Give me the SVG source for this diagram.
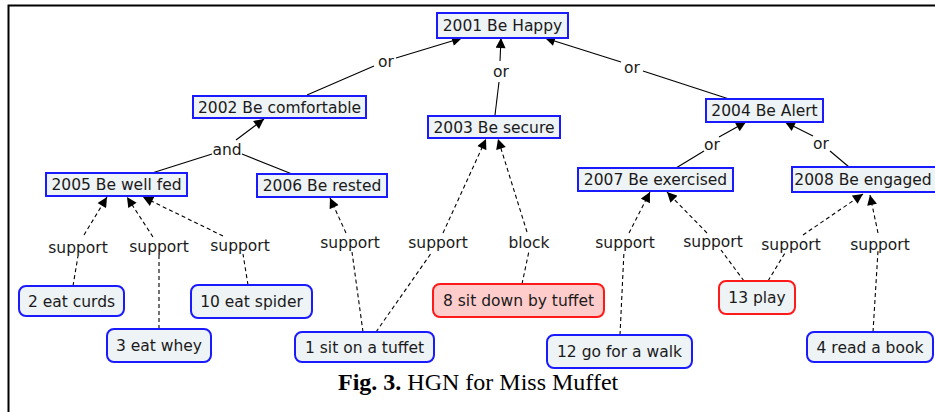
<svg xmlns="http://www.w3.org/2000/svg" width="935" height="412" viewBox="0 0 935 412">
<defs>
<marker id="ah" viewBox="0 0 10 10" refX="10" refY="5" markerWidth="11" markerHeight="10" markerUnits="userSpaceOnUse" orient="auto">
<path d="M0,0 L10,5 L0,10 z" fill="#000"/>
</marker>
</defs>
<style>
.n rect{fill:#eef3f6;stroke:#1a1aff;stroke-width:2}
.n.red rect{stroke:#ff1a1a}
.n.pink rect{fill:#ffcccc;stroke:#ff1a1a}
text{font-family:"DejaVu Sans",Verdana,sans-serif;font-size:15.5px;fill:#1a1a1a;text-anchor:middle}
.c line{stroke:#000;stroke-width:1.1;fill:none}
.c .d line{stroke-dasharray:4,3}
.cap{font-family:"Liberation Serif","Times New Roman",serif;font-size:24px;fill:#000;text-anchor:start}
</style>
<rect width="935" height="412" fill="#fff"/>
<path d="M8.5,412 V5.5 H935" fill="none" stroke="#000" stroke-width="2"/>
<g class="c" id="connectors">
<g class="s">
<line x1="307" y1="95" x2="374" y2="66"/>
<line x1="396" y1="58" x2="462" y2="38" marker-end="url(#ah)"/>
<line x1="495" y1="115" x2="499" y2="82"/>
<line x1="500" y1="61" x2="501" y2="38" marker-end="url(#ah)"/>
<line x1="729" y1="99" x2="643" y2="71"/>
<line x1="621" y1="62" x2="545" y2="38" marker-end="url(#ah)"/>
<line x1="152" y1="173" x2="212" y2="154"/>
<line x1="242" y1="154" x2="292" y2="174"/>
<line x1="236" y1="140" x2="264" y2="119" marker-end="url(#ah)"/>
<line x1="676" y1="168" x2="704" y2="151"/>
<line x1="719" y1="137" x2="746" y2="122" marker-end="url(#ah)"/>
<line x1="849" y1="167" x2="830" y2="151"/>
<line x1="813" y1="136" x2="785" y2="122" marker-end="url(#ah)"/>
</g>
<g class="d">
<line x1="73" y1="286" x2="78" y2="256"/>
<line x1="84" y1="235" x2="107" y2="197" marker-end="url(#ah)"/>
<line x1="159" y1="329" x2="159" y2="255"/>
<line x1="153" y1="237" x2="127" y2="197" marker-end="url(#ah)"/>
<line x1="248" y1="285" x2="243" y2="254"/>
<line x1="223" y1="236" x2="143" y2="197" marker-end="url(#ah)"/>
<line x1="363" y1="332" x2="352" y2="252"/>
<line x1="346" y1="233" x2="330" y2="198" marker-end="url(#ah)"/>
<line x1="376" y1="332" x2="432" y2="252"/>
<line x1="443" y1="233" x2="486" y2="139" marker-end="url(#ah)"/>
<line x1="522" y1="284" x2="529" y2="251"/>
<line x1="527" y1="232" x2="498" y2="139" marker-end="url(#ah)"/>
<line x1="620" y1="335" x2="624" y2="251"/>
<line x1="629" y1="233" x2="650" y2="192" marker-end="url(#ah)"/>
<line x1="744" y1="281" x2="721" y2="250"/>
<line x1="707" y1="233" x2="667" y2="192" marker-end="url(#ah)"/>
<line x1="768" y1="281" x2="785" y2="253"/>
<line x1="803" y1="235" x2="863" y2="194" marker-end="url(#ah)"/>
<line x1="873" y1="332" x2="878" y2="251"/>
<line x1="878" y1="233" x2="870" y2="195" marker-end="url(#ah)"/>
</g>
<g id="labels">
<text x="386" y="67">or</text>
<text x="501" y="77">or</text>
<text x="632" y="73">or</text>
<text x="227" y="155">and</text>
<text x="712" y="150">or</text>
<text x="821" y="149">or</text>
<text x="78" y="253">support</text>
<text x="159" y="252">support</text>
<text x="240" y="251">support</text>
<text x="350" y="248">support</text>
<text x="438" y="248">support</text>
<text x="529" y="248">block</text>
<text x="625" y="248">support</text>
<text x="713" y="247">support</text>
<text x="791" y="250">support</text>
<text x="880" y="250">support</text>
</g>
</g>
<g class="n" id="n2001"><rect x="437" y="13" width="131" height="25"/><text x="502.5" y="31">2001 Be Happy</text></g>
<g class="n" id="n2002"><rect x="193" y="96" width="173" height="22"/><text x="279.5" y="112.5">2002 Be comfortable</text></g>
<g class="n" id="n2003"><rect x="428" y="116" width="132" height="22"/><text x="494" y="132.5">2003 Be secure</text></g>
<g class="n" id="n2004"><rect x="706" y="99" width="117" height="23"/><text x="764.5" y="116">2004 Be Alert</text></g>
<g class="n" id="n2005"><rect x="46" y="173" width="141" height="23"/><text x="116.5" y="190">2005 Be well fed</text></g>
<g class="n" id="n2006"><rect x="257" y="174" width="130" height="23"/><text x="322" y="191">2006 Be rested</text></g>
<g class="n" id="n2007"><rect x="578" y="168" width="155" height="23"/><text x="655.5" y="185">2007 Be exercised</text></g>
<g class="n" id="n2008"><rect x="792" y="167" width="145" height="25"/><text x="863" y="185">2008 Be engaged</text></g>
<g class="n" id="n2"><rect x="19" y="286" width="105" height="30" rx="7"/><text x="71.5" y="306.5">2 eat curds</text></g>
<g class="n" id="n3"><rect x="107" y="329" width="104" height="33" rx="7"/><text x="159" y="351">3 eat whey</text></g>
<g class="n" id="n10"><rect x="191" y="285" width="121" height="33" rx="7"/><text x="251.5" y="307">10 eat spider</text></g>
<g class="n" id="n1"><rect x="295" y="332" width="139" height="30" rx="7"/><text x="364.5" y="353">1 sit on a tuffet</text></g>
<g class="n pink" id="n8"><rect x="433" y="284" width="171" height="33" rx="7"/><text x="518.5" y="306">8 sit down by tuffet</text></g>
<g class="n" id="n12"><rect x="547" y="335" width="145" height="33" rx="7"/><text x="619.5" y="357">12 go for a walk</text></g>
<g class="n red" id="n13"><rect x="719" y="281" width="76" height="33" rx="7"/><text x="757" y="303">13 play</text></g>
<g class="n" id="n4"><rect x="807" y="332" width="126" height="30" rx="7"/><text x="870" y="353">4 read a book</text></g>
<text class="cap" x="338" y="390"><tspan font-weight="bold">Fig. 3.</tspan> HGN for Miss Muffet</text>
</svg>
